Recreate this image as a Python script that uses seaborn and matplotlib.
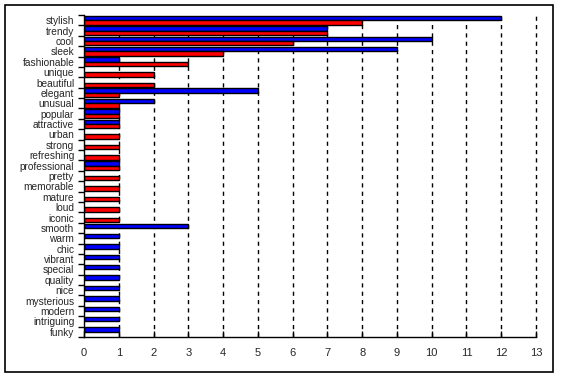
import numpy as np
import pandas as pd
import seaborn as sns
import matplotlib.pyplot as plt
from matplotlib.patches import Rectangle
from matplotlib.ticker import FixedLocator

# categories, top to bottom
words = ["stylish", "trendy", "cool", "sleek", "fashionable", "unique", "beautiful",
         "elegant", "unusual", "popular", "attractive", "urban", "strong", "refreshing",
         "professional", "pretty", "memorable", "mature", "loud", "iconic", "smooth",
         "warm", "chic", "vibrant", "special", "quality", "nice", "mysterious",
         "modern", "intriguing", "funky"]
# blue series (upper bar of each pair)
blue_vals = [12, 7, 10, 9, 1, 0, 0, 5, 2, 1, 1, 0, 0, 0, 1, 0, 0, 0, 0, 0, 3,
             1, 1, 1, 1, 1, 1, 1, 1, 1, 1]
# red series (lower bar of each pair)
red_vals = [8, 7, 6, 4, 3, 2, 2, 1, 1, 1, 1, 1, 1, 1, 1, 1, 1, 1, 1, 1, 0,
            0, 0, 0, 0, 0, 0, 0, 0, 0, 0]
x_ticks = list(range(0, 14))

df = pd.concat([
    pd.DataFrame({"word": words, "count": blue_vals, "series": "A"}),
    pd.DataFrame({"word": words, "count": red_vals, "series": "B"}),
])
df_nonzero = df[df["count"] > 0]

sns.set_style("white")
plt.rcParams['font.family'] = ['Liberation Sans', 'DejaVu Sans']

fig = plt.figure(figsize=(5.61, 3.79), dpi=100)
ax = fig.add_axes([84 / 561, 1 - 337 / 379, (536 - 84) / 561, (337 - 15) / 379])

sns.barplot(data=df_nonzero, x="count", y="word", hue="series", order=words,
            hue_order=["A", "B"], palette={"A": "#0000FF", "B": "#FF0000"},
            saturation=1, orient="h", width=0.85, edgecolor="black", linewidth=1,
            errorbar=None, legend=False, ax=ax)

ax.set_xlim(0, 13)
ax.set_ylim(len(words) - 0.5, -0.5)
ax.set_xticks(x_ticks)
ax.set_xlabel("")
ax.set_ylabel("")

# dashed vertical gridlines, Excel style
for x in x_ticks[1:]:
    ax.axvline(x, color="black", lw=1, ls=(0, (3, 3)), zorder=0.5, clip_on=False)

ax.spines["top"].set_visible(False)
ax.spines["right"].set_visible(False)
for s in ["left", "bottom"]:
    ax.spines[s].set_color("black")
    ax.spines[s].set_linewidth(1)

ax.tick_params(axis="y", which="major", length=0, labelsize=7.3, pad=7)
ax.yaxis.set_minor_locator(FixedLocator(np.arange(-0.5, len(words), 1)))
ax.tick_params(axis="y", which="minor", length=4, width=1, color="black", left=True)
ax.tick_params(axis="x", length=4, width=1, direction="in", bottom=True,
               labelsize=8, pad=8, color="black")

fig.patches.append(Rectangle((5 / 561, 1 - 372 / 379), 548 / 561, 367 / 379,
                             transform=fig.transFigure, fill=False,
                             edgecolor="black", lw=1.2))

fig.savefig("out.png", dpi=100)
